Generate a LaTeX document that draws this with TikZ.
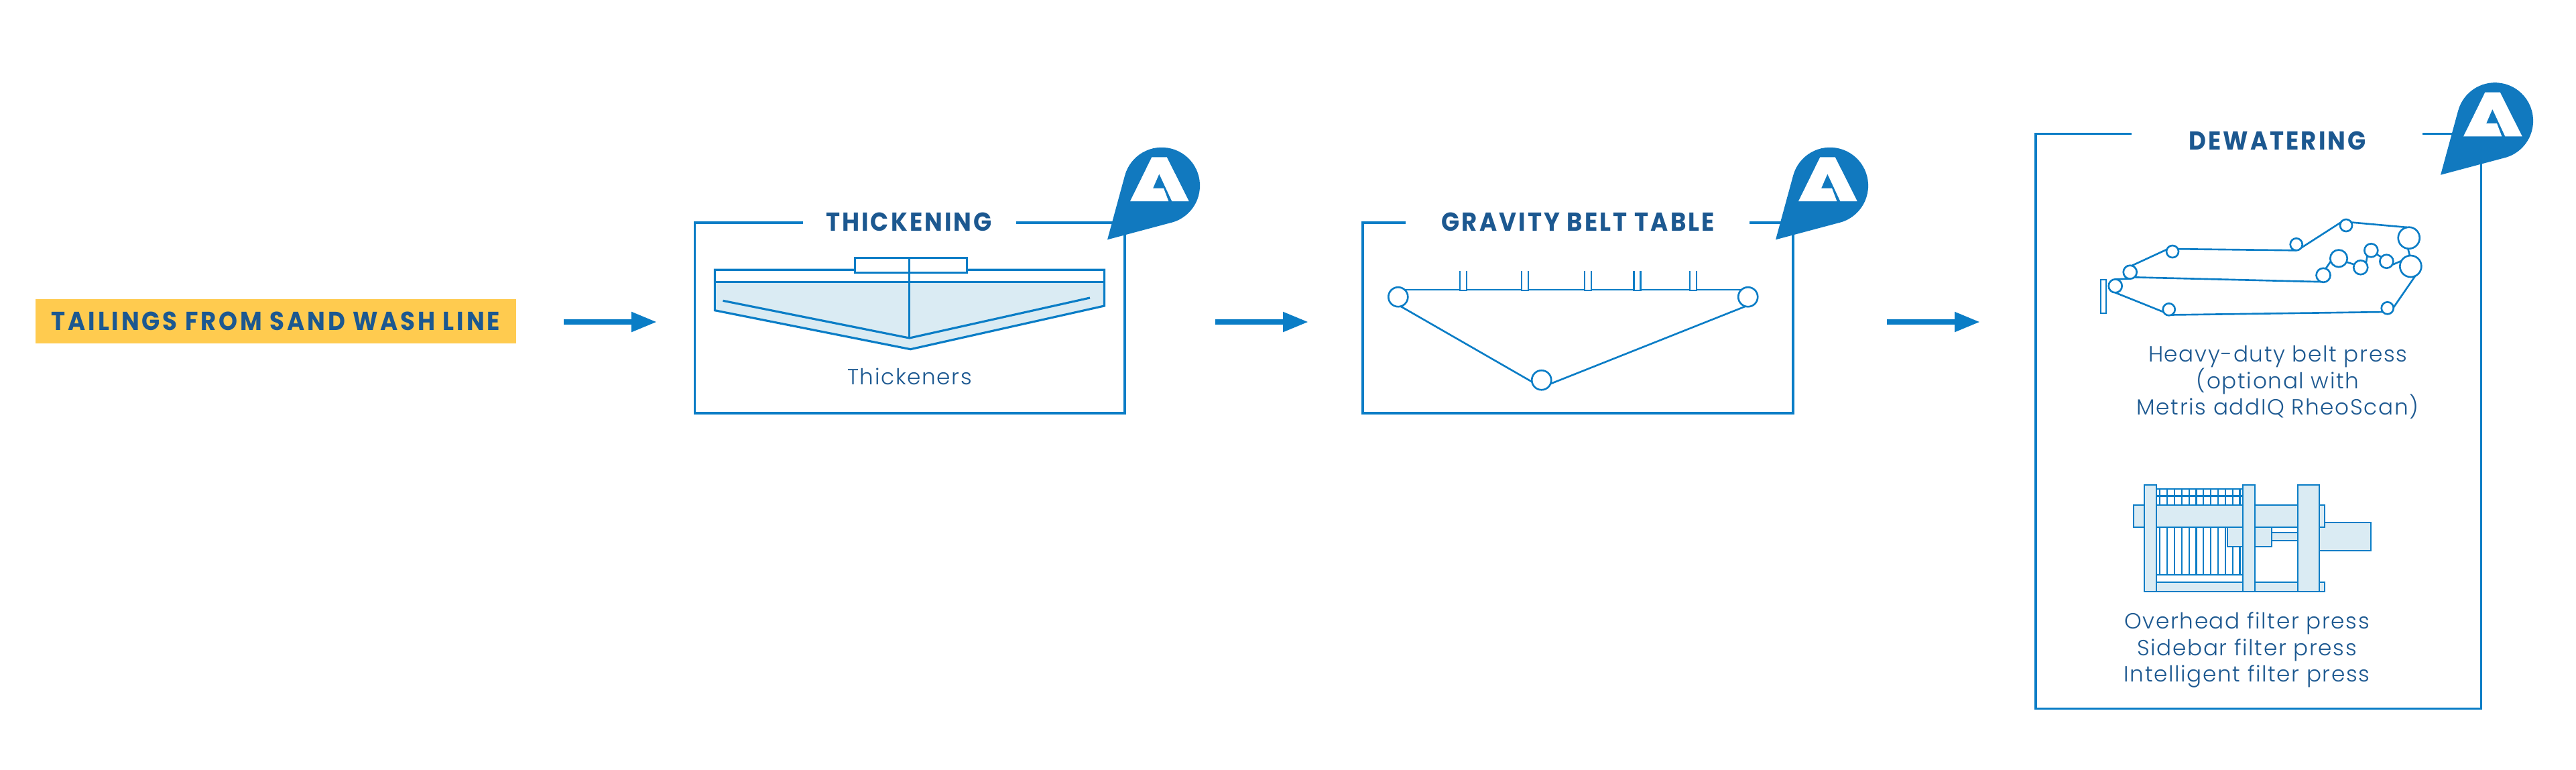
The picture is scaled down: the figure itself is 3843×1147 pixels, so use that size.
\documentclass[tikz,border=0pt]{standalone}
\usepackage{fontspec}
\usetikzlibrary{arrows.meta}
\setmainfont{Poppins}
\newfontfamily\headfont[LetterSpace=8,FakeStretch=0.92]{Poppins Bold}
\newfontfamily\srcfont[LetterSpace=10,FakeStretch=0.92]{Poppins Bold}
\newfontfamily\bodyfont[LetterSpace=5]{Poppins Light}
\definecolor{lineblue}{HTML}{0A7DC6}
\definecolor{pinblue}{HTML}{1179BF}
\definecolor{paleblue}{HTML}{DAEBF3}
\definecolor{inkblue}{HTML}{1C5890}
\definecolor{sandyellow}{HTML}{FFCB4F}
\tikzset{
  x=0.01cm,y=-0.01cm,
  frame/.style={draw=lineblue,line width=1pt,miter limit=10},
  art/.style={draw=lineblue,line width=0.9pt},
  artfill/.style={draw=lineblue,fill=paleblue,line width=0.65pt},
  thin art/.style={draw=lineblue,line width=0.62pt},
  belt/.style={draw=lineblue,line width=0.75pt},
  roller/.style={circle,draw=lineblue,line width=0.75pt,inner sep=0pt,outer sep=0pt,fill=white},
  heading/.style={text=inkblue,font=\headfont\fontsize{11}{12}\selectfont,anchor=base,inner sep=0pt},
  caption/.style={text=inkblue,font=\bodyfont\fontsize{9.3}{11.3}\selectfont,align=center,inner sep=0pt},
  flow/.style={draw=lineblue,line width=2.28pt,-{Triangle[length=0.38cm,width=0.28cm]}},
}
\newcommand{\pinmark}[2]{%
  \begin{scope}[shift={(#1,#2)}]
    \fill[pinblue] (1652,357.3) -- (1678,262) arc[start angle=195,end angle=432.7,radius=57] -- cycle;
    \fill[white] (1718.3,234.3) -- (1740.7,234.3) -- (1773.7,300) -- (1748.3,300) -- (1729.3,259.3)
      -- (1720,280.7) -- (1736,280.7) -- (1743.3,300) -- (1686,300) -- cycle;
  \end{scope}}
\begin{document}
\begin{tikzpicture}
\useasboundingbox (0,0) rectangle (3843,1147);

% source
\node[fill=sandyellow,minimum width=7.173cm,minimum height=0.657cm,inner sep=0pt,outer sep=0pt,
  text=inkblue,font=\srcfont\fontsize{11}{12}\selectfont] (src) at (411.4,478.9) {\raisebox{-0.5pt}{TAILINGS FROM SAND WASH LINE}};

% frames
\draw[frame] (1197.7,332) -- (1036.6,332) -- (1036.6,616) -- (1678,616) -- (1678,332) -- (1516,332);
\draw[frame] (2096.8,332) -- (2033,332) -- (2033,616) -- (2674.7,616) -- (2674.7,332) -- (2610,332);
\draw[frame] (3179.7,199.3) -- (3036.8,199.3) -- (3036.8,1056.7) -- (3701.5,1056.7) -- (3701.5,199.3) -- (3613.9,199.3);
\pinmark{0}{0}
\pinmark{997}{0}
\pinmark{1989}{-96.6}

% headings
\node[heading] (h1) at (1356,344) {THICKENING};
\node[heading] (h2) at (2354.3,344) {GRAVITY BELT TABLE};
\node[heading] (h3) at (3397.5,223.3) {DEWATERING};

% flow arrows
\coordinate (a1s) at (841,480); \coordinate (a1e) at (980,480);
\coordinate (a2s) at (1813,480); \coordinate (a2e) at (1952,480);
\coordinate (a3s) at (2815,480); \coordinate (a3e) at (2954,480);
\draw[flow] (a1s) -- (a1e);
\draw[flow] (a2s) -- (a2e);
\draw[flow] (a3s) -- (a3e);

% thickener
\fill[paleblue] (1066.4,420.7) -- (1647.5,420.7) -- (1647.5,456) -- (1358.3,520.7) -- (1066.4,462.7) -- cycle;
\draw[art] (1275.6,402.3) -- (1066.4,402.3) -- (1066.4,462.7) -- (1358.3,520.7) -- (1647.5,456) -- (1647.5,402.3) -- (1442.5,402.3);
\draw[art] (1066.4,420.7) -- (1647.5,420.7);
\draw[art] (1275.6,384.7) rectangle (1442.5,406.7);
\draw[art] (1356.7,384.7) -- (1356.7,505);
\draw[art] (1078.5,448.3) -- (1356.7,504) -- (1626,444);
\node[caption,anchor=base] (t1) at (1357,573) {Thickeners};

% gravity belt table
\node[roller,minimum size=0.29cm] (gl) at (2085.8,442.7) {};
\node[roller,minimum size=0.29cm] (gr) at (2607.7,442.7) {};
\node[roller,minimum size=0.29cm] (gb) at (2299.7,566.7) {};
\draw[belt] (gl.48) -- (gr.132);
\draw[belt] (gl.-75) -- (gb.-170);
\draw[belt] (gr.-105) -- (gb.-22);
\foreach \cx in {2183,2274.6,2368.7,2442.5,2526}{
  \draw[thin art,fill=white] (\cx-5,404.3) -- (\cx-5,433) -- (\cx+5,433) -- (\cx+5,404.3);
}

% heavy-duty belt press
\draw[thin art] (3134,416.7) rectangle (3142.3,467.3);
\node[roller,minimum size=0.2cm]  (c1)  at (3155.7,426.3) {};
\node[roller,minimum size=0.2cm]  (c2)  at (3177.7,405.7) {};
\node[roller,minimum size=0.18cm] (c3)  at (3241,375) {};
\node[roller,minimum size=0.18cm] (c4)  at (3425.7,364.3) {};
\node[roller,minimum size=0.18cm] (c5)  at (3500,336) {};
\node[roller,minimum size=0.32cm] (c6)  at (3593.7,354.7) {};
\node[roller,minimum size=0.32cm] (c7)  at (3596.3,397) {};
\node[roller,minimum size=0.2cm]  (c8)  at (3560.3,389.7) {};
\node[roller,minimum size=0.2cm]  (c9)  at (3537.3,373.3) {};
\node[roller,minimum size=0.21cm] (c10) at (3521.7,398.7) {};
\node[roller,minimum size=0.255cm] (c11) at (3489,385.3) {};
\node[roller,minimum size=0.21cm] (c12) at (3466,410.3) {};
\node[roller,minimum size=0.18cm] (c13) at (3561.7,459.3) {};
\node[roller,minimum size=0.18cm] (c14) at (3235.7,461.3) {};
\draw[belt] (c1.85) -- (c2.-100);
\draw[belt] (c2.-50) -- (c12.-110);
\draw[belt] (c2.75) -- (c3.160);
\draw[belt] (c3.25) -- (c4.-90);
\draw[belt] (c4.-35) -- (c5.150);
\draw[belt] (c5.30) -- (c6.100);
\draw[belt] (c6.-95) -- (c7.95);
\draw[belt] (c7.150) -- (c8.-30);
\draw[belt] (c8.140) -- (c9.-35);
\draw[belt] (c9.-125) -- (c10.40);
\draw[belt] (c10.155) -- (c11.-25);
\draw[belt] (c11.-160) -- (c12.70);
\draw[belt] (c7.-65) -- (c13.5);
\draw[belt] (c13.-140) -- (c14.-65);
\draw[belt] (c14.-155) -- (c1.-90);
\node[caption] (t2) at (3398,570) {Heavy-duty belt press\\(optional with\\Metris addIQ RheoScan)};

% filter press
\draw[artfill,fill=white] (3217.3,729.3) rectangle (3346,856.7);
\foreach \i in {0,...,11}{
  \draw[thin art] ({3222.3+\i*10.83},729.3) -- ({3222.3+\i*10.83},856.7);
}
\draw[lineblue,line width=0.9pt] (3217.3,739.3) -- (3346,739.3);
\draw[artfill] (3460,779) rectangle (3536.7,820.7);
\draw[artfill] (3183.3,753.3) rectangle (3468.3,786);
\draw[artfill] (3388.7,794) rectangle (3428.3,806);
\draw[artfill] (3323.3,786) rectangle (3388.7,815);
\draw[artfill] (3199.3,867.7) rectangle (3468.3,881.7);
\draw[artfill] (3199.3,722.7) rectangle (3217.3,881.7);
\draw[artfill] (3346,722.7) rectangle (3364,881.7);
\draw[artfill] (3428.3,722.7) rectangle (3460,881.7);
\node[caption] (t3) at (3352,969) {Overhead filter press\\Sidebar filter press\\Intelligent filter press};
\end{tikzpicture}
\end{document}
